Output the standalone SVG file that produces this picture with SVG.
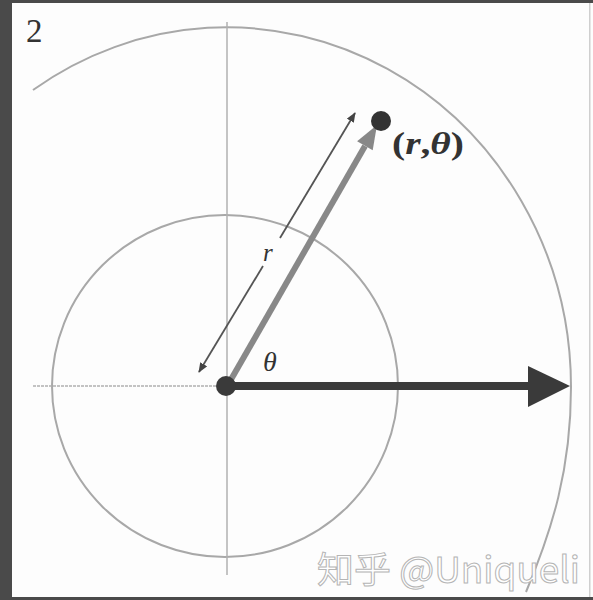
<svg xmlns="http://www.w3.org/2000/svg" width="593" height="600" viewBox="0 0 593 600">
<defs>
<style>
.guide{fill:none;stroke:#a8a8a8;stroke-width:2}
.axis{fill:none;stroke:#b0b0b0;stroke-width:1.5}
.lbl{font-family:"Liberation Serif","DejaVu Serif",serif;fill:#333}
.thin{stroke:#555;stroke-width:1.8}
</style>
<marker id="sm" viewBox="0 0 10 8" refX="9" refY="4" markerWidth="10" markerHeight="8" markerUnits="userSpaceOnUse" orient="auto-start-reverse">
<path d="M0,0 L10,4 L0,8 Z" fill="#444"/>
</marker>
</defs>
<rect x="0" y="0" width="593" height="600" fill="#fdfdfd"/>
<rect x="0" y="0" width="12" height="600" fill="#4a4a4a"/>
<rect x="0" y="0" width="593" height="3" fill="#4a4a4a"/>
<rect x="0" y="597" width="593" height="3" fill="#4a4a4a"/>
<rect x="589" y="3" width="1.5" height="594" fill="#cfcfcf"/>
<text class="lbl" x="26" y="42" font-size="33">2</text>
<g id="circles">
<ellipse class="guide" cx="225" cy="386" rx="173" ry="171"/>
<path class="guide" d="M33,90 A344,360 0 0 1 571,387 C571,470 552,530 526,592"/>
</g>
<g id="axes">
<line class="axis" x1="227" y1="22" x2="227" y2="575"/>
<line class="axis" x1="33" y1="386" x2="227" y2="386" stroke-dasharray="3,1"/>
</g>
<g id="connectors">
<line x1="230" y1="386" x2="530" y2="386" stroke="#3a3a3a" stroke-width="8"/>
<polygon points="528,366 570,386 528,407" fill="#3a3a3a"/>
<line x1="229" y1="383" x2="365" y2="146" stroke="#888" stroke-width="6"/>
<polygon points="377,125 372.7,150.2 357.1,141.2" fill="#888"/>
<line class="thin" x1="199" y1="372" x2="263" y2="266" marker-start="url(#sm)"/>
<line class="thin" x1="280" y1="238" x2="355" y2="113" marker-end="url(#sm)"/>
</g>
<g id="origin"><circle cx="226" cy="386" r="10" fill="#3a3a3a"/></g>
<g id="point"><circle cx="381" cy="121" r="10" fill="#333"/></g>
<text class="lbl" x="392" y="154" font-size="31" font-weight="bold" textLength="72" lengthAdjust="spacingAndGlyphs">(<tspan font-style="italic">r</tspan>,<tspan font-style="italic">θ</tspan>)</text>
<text class="lbl" x="263" y="261" font-size="25" font-style="italic">r</text>
<text class="lbl" x="263" y="371" font-size="28" font-style="italic" fill="#444">θ</text>
<text x="317" y="583" font-family="'Noto Sans CJK SC','Noto Sans',sans-serif" font-size="36" textLength="263" lengthAdjust="spacingAndGlyphs" fill="#ffffff" stroke="#b5b5b5" stroke-width="1">知乎 @Uniqueli</text>
</svg>
